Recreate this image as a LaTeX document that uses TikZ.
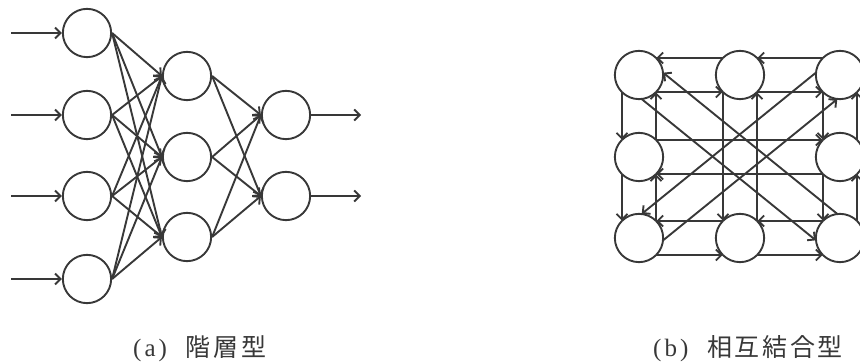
\documentclass[tikz,border=0pt]{standalone}
\usepackage{fontspec}
\setmainfont{Liberation Serif}
\newfontfamily\cjkfont{Noto Sans CJK JP}
\usetikzlibrary{arrows.meta,calc}
\definecolor{ink}{HTML}{383838}
\newcommand\kj[1]{\makebox[27.6pt][l]{#1}}
% arrow drawn on the right-hand side of the line a->b
\newcommand\connR[2]{\draw[arr] ($(#1)!17.3pt!(#2)!17pt!-90:(#2)$) -- ($(#2)!17.3pt!(#1)!17pt!90:(#1)$);}
% arrow drawn on the left-hand side of the line a->b
\newcommand\connL[2]{\draw[arr] ($(#1)!17.3pt!(#2)!17pt!90:(#2)$) -- ($(#2)!17.3pt!(#1)!17pt!-90:(#1)$);}
\tikzset{
  neuron/.style={circle, draw=ink, line width=1.9pt, minimum size=48.3pt, inner sep=0pt, fill=white},
  arr/.style={draw=ink, line width=1.9pt, -{Straight Barb[length=5.5pt,width=11pt]}},
  lbl/.style={anchor=base west, inner sep=0pt, text=ink, font=\fontsize{25pt}{30pt}\selectfont}
}
\begin{document}
\begin{tikzpicture}[x=1pt,y=-1pt]
\useasboundingbox (0,0) rectangle (860,363);
% ---------- (a) layered network ----------
\node[neuron] (I1) at (87,33) {};
\node[neuron] (I2) at (87,115) {};
\node[neuron] (I3) at (87,196) {};
\node[neuron] (I4) at (87,279) {};
\node[neuron] (H1) at (187,76) {};
\node[neuron] (H2) at (187,157) {};
\node[neuron] (H3) at (187,237) {};
\node[neuron] (O1) at (286,115) {};
\node[neuron] (O2) at (286,196) {};
\coordinate (in1) at (11,33);
\coordinate (in2) at (11,115);
\coordinate (in3) at (11,196);
\coordinate (in4) at (11,279);
\coordinate (out1) at (361,115);
\coordinate (out2) at (361,196);
\foreach \i in {1,...,4} {\draw[arr] (in\i) -- (I\i);}
\foreach \k in {1,2} {\draw[arr] (O\k) -- (out\k);}
\foreach \i in {1,...,4} {\foreach \j in {1,2,3} {\draw[arr] (I\i.east) -- (H\j.west);}}
\foreach \j in {1,2,3} {\foreach \k in {1,2} {\draw[arr] (H\j.east) -- (O\k.west);}}
% ---------- (b) mutually connected network ----------
\node[neuron] (TL) at (639,75) {};
\node[neuron] (TM) at (740,75) {};
\node[neuron] (TR) at (840,75) {};
\node[neuron] (ML) at (639,157) {};
\node[neuron] (MR) at (840,157) {};
\node[neuron] (BL) at (639,238) {};
\node[neuron] (BM) at (740,238) {};
\node[neuron] (BR) at (840,238) {};
% rows
\connR{TR}{TM} \connR{TM}{TL} \connR{TL}{TM} \connR{TM}{TR}
\connL{ML}{MR} \connL{MR}{ML}
\connR{BR}{BM} \connR{BM}{BL} \connR{BL}{BM} \connR{BM}{BR}
% columns
\connR{TL}{ML} \connR{ML}{BL} \connR{BL}{ML} \connR{ML}{TL}
\connR{TM}{BM} \connR{BM}{TM}
\connR{TR}{MR} \connR{MR}{BR} \connR{BR}{MR} \connR{MR}{TR}
% diagonals
\connR{TL}{BR} \connR{BR}{TL} \connR{TR}{BL} \connR{BL}{TR}
% ---------- captions ----------
\node[lbl] (la) at (133,357) {(\kern3pt a\kern3pt)\hspace{19pt}{\cjkfont\kj{階}\kj{層}\kj{型}}};
\node[lbl] (lb) at (653,357) {(\kern3pt b\kern3pt)\hspace{19pt}{\cjkfont\kj{相}\kj{互}\kj{結}\kj{合}\kj{型}}};
\end{tikzpicture}
\end{document}
